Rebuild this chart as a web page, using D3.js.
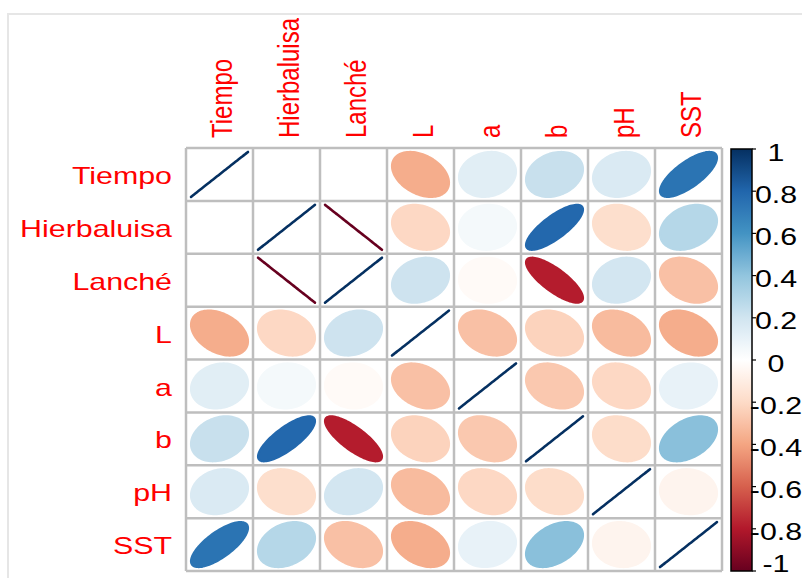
<!DOCTYPE html>
<html>
<head>
<meta charset="utf-8">
<script src="https://cdn.jsdelivr.net/npm/d3@7"></script>
<style>
  html, body { margin: 0; padding: 0; background: #fff; }
  svg { display: block; }
  text { font-family: "Liberation Sans", Arial, sans-serif; }
</style>
</head>
<body>
<svg id="chart" width="802" height="578"></svg>
<script>
// Variables in the correlation matrix
const variables = ["Tiempo", "Hierbaluisa", "Lanché", "L", "a", "b", "pH", "SST"];

// Pearson correlations, one row per variable
const rowTiempo      = [ 1.00,  0.00,  0.00, -0.37,  0.13,  0.23,  0.16,  0.74];
const rowHierbaluisa = [ 0.00,  1.00, -1.00, -0.21,  0.05,  0.79, -0.18,  0.29];
const rowLanche      = [ 0.00, -1.00,  1.00,  0.21, -0.03, -0.79,  0.19, -0.30];
const rowL           = [-0.37, -0.21,  0.21,  1.00, -0.30, -0.23, -0.32, -0.37];
const rowA           = [ 0.13,  0.05, -0.03, -0.30,  1.00, -0.27, -0.21,  0.10];
const rowB           = [ 0.23,  0.79, -0.79, -0.23, -0.27,  1.00, -0.19,  0.42];
const rowPH          = [ 0.16, -0.18,  0.19, -0.32, -0.21, -0.19,  1.00, -0.06];
const rowSST         = [ 0.74,  0.29, -0.30, -0.37,  0.10,  0.42, -0.06,  1.00];

// Colour legend ticks
const legendTicks = [1, 0.8, 0.6, 0.4, 0.2, 0, -0.2, -0.4, -0.6, -0.8, -1];
const legendTickLabels = ["1", "0.8", "0.6", "0.4", "0.2", "0", "-0.2", "-0.4", "-0.6", "-0.8", "-1"];

// RdBu diverging palette stops from -1 to 1
const paletteStops = ["#67001F", "#B2182B", "#D6604D", "#F4A582", "#FDDBC7", "#FFFFFF",
                      "#D1E5F0", "#92C5DE", "#4393C3", "#2166AC", "#053061"];

const rows = [rowTiempo, rowHierbaluisa, rowLanche, rowL, rowA, rowB, rowPH, rowSST];
const cells = [];
rows.forEach((vals, i) => vals.forEach((r, j) => cells.push({ row: variables[i], col: variables[j], r })));

const svg = d3.select("#chart");
const sx = 1.266; // horizontal stretch applied to the text glyphs

// Outer panel border
svg.append("rect")
  .attr("x", 8).attr("y", 14).attr("width", 820).attr("height", 600)
  .attr("fill", "none").attr("stroke", "#e6e6e6").attr("stroke-width", 2);

const grid = { left: 186, top: 148, right: 722, bottom: 571 };

const x = d3.scaleBand().domain(variables).range([grid.left, grid.right]);
const y = d3.scaleBand().domain(variables).range([grid.top, grid.bottom]);

const color = d3.scaleLinear()
  .domain(d3.range(paletteStops.length).map(i => -1 + i * 2 / (paletteStops.length - 1)))
  .range(paletteStops)
  .interpolate(d3.interpolateRgb)
  .clamp(true);

// Ellipse outline for correlation r inside a cell of size w x h
const kSteps = d3.range(99).map(i => i * 2 * Math.PI / 98);
const ellipseLine = d3.line().curve(d3.curveLinearClosed);
function ellipsePath(r, w, h) {
  const a = Math.acos(Math.max(-1, Math.min(1, r)));
  const pts = kSteps.map(k => [
    0.85 * w * Math.cos(k + a / 2) / 2,
    -0.85 * h * Math.cos(k - a / 2) / 2
  ]);
  return ellipseLine(pts);
}

// Cell marks
const gCells = svg.append("g");
gCells.selectAll("path.ell")
  .data(cells)
  .join("path")
  .attr("class", "ell")
  .attr("transform", d => `translate(${x(d.col) + x.bandwidth() / 2},${y(d.row) + y.bandwidth() / 2})`)
  .attr("d", d => ellipsePath(d.r, x.bandwidth(), y.bandwidth()))
  .attr("fill", d => color(d.r))
  .attr("stroke", d => color(d.r))
  .attr("stroke-width", d => Math.abs(d.r) === 1 ? 2.6 : 2.2)
  .attr("stroke-linejoin", "round");

// Grid lines
const gGrid = svg.append("g").attr("stroke", "#bebebe").attr("stroke-width", 2.5);
const xEdges = variables.map(v => x(v)).concat([grid.right]);
const yEdges = variables.map(v => y(v)).concat([grid.bottom]);
gGrid.selectAll("line.v").data(xEdges).join("line").attr("class", "v")
  .attr("x1", d => d).attr("x2", d => d).attr("y1", grid.top).attr("y2", grid.bottom);
gGrid.selectAll("line.h").data(yEdges).join("line").attr("class", "h")
  .attr("y1", d => d).attr("y2", d => d).attr("x1", grid.left).attr("x2", grid.right);

// Row labels
svg.append("g").selectAll("text")
  .data(variables)
  .join("text")
  .attr("transform", d => `translate(172,${y(d) + y.bandwidth() / 2 + 1}) scale(${sx},1)`)
  .attr("text-anchor", "end")
  .attr("dy", "0.36em")
  .attr("font-size", 24)
  .attr("fill", "#FF0000")
  .text(d => d);

// Column labels, rotated
svg.append("g").selectAll("text")
  .data(variables)
  .join("text")
  .attr("transform", d => `translate(${x(d) + x.bandwidth() / 2 + 2},138) scale(${sx},1) rotate(-90)`)
  .attr("text-anchor", "start")
  .attr("dy", "0.36em")
  .attr("font-size", 24)
  .attr("fill", "#FF0000")
  .text(d => d);

// Colour legend
const legend = { x: 731, w: 21 };
const ly = d3.scaleLinear().domain([-1, 1]).range([grid.bottom, grid.top + 1]);
const defs = svg.append("defs");
const grad = defs.append("linearGradient").attr("id", "rdbu")
  .attr("x1", 0).attr("y1", 1).attr("x2", 0).attr("y2", 0);
grad.selectAll("stop")
  .data(d3.range(41).map(i => -1 + i * 0.05))
  .join("stop")
  .attr("offset", d => (d + 1) / 2)
  .attr("stop-color", d => color(d));

svg.append("rect")
  .attr("x", legend.x).attr("y", ly(1))
  .attr("width", legend.w).attr("height", ly(-1) - ly(1))
  .attr("fill", "url(#rdbu)")
  .attr("stroke", "#000").attr("stroke-width", 1.5);

const gTicks = svg.append("g");
gTicks.selectAll("line")
  .data(legendTicks)
  .join("line")
  .attr("x1", legend.x + legend.w).attr("x2", legend.x + legend.w + 4)
  .attr("y1", d => ly(d)).attr("y2", d => ly(d))
  .attr("stroke", "#000").attr("stroke-width", 1.2);
gTicks.selectAll("text")
  .data(legendTicks)
  .join("text")
  .attr("transform", d => `translate(776,${Math.min(ly(d) + 3, 563)}) scale(${sx},1)`)
  .attr("text-anchor", "middle")
  .attr("dy", "0.36em")
  .attr("font-size", 24)
  .attr("fill", "#000")
  .text((d, i) => legendTickLabels[i]);
</script>
</body>
</html>
